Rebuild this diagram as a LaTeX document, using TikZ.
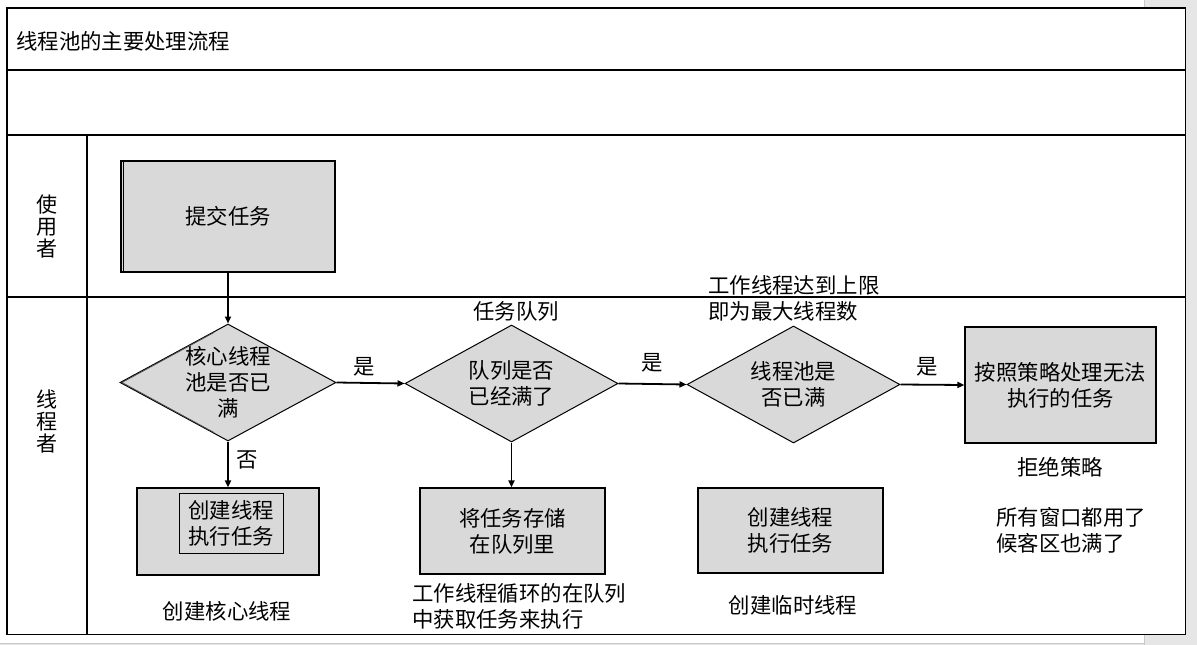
\documentclass[tikz,border=0pt]{standalone}
\usepackage{fontspec}
\setmainfont{Noto Sans CJK SC}
\usepackage{xcolor}
\usetikzlibrary{shapes.geometric, arrows.meta, positioning, calc}
\definecolor{boxgray}{RGB}{217,217,217}
\definecolor{pagegray}{RGB}{230,230,230}
\definecolor{edgegray}{RGB}{200,200,200}

\begin{document}
\begin{tikzpicture}[x=1pt, y=-1pt,
    font=\fontsize{21.4}{26}\selectfont,
    box/.style={rectangle, draw=black, fill=boxgray, line width=1.2pt, align=center, inner sep=0pt},
    decision/.style={diamond, draw=black, fill=boxgray, line width=1pt, inner sep=0pt, minimum width=214pt, minimum height=117pt},
    note/.style={align=center, inner sep=0pt},
    arrow/.style={-{Triangle[length=7pt, width=6pt]}, line width=1.8pt},
    lane/.style={line width=2pt}
]
    \useasboundingbox (0,0) rectangle (1197,645);

    % Page
    \fill[pagegray] (1144,0) rectangle (1197,645);
    \fill[pagegray] (0,643) rectangle (1144,645);
    \draw[edgegray, line width=1pt] (1144,0) -- (1144,645);
    \draw[edgegray, line width=1pt] (0,643) -- (1144,643);

    % Swimlanes
    \draw[line width=1.2pt, fill=white] (7,8) rectangle (1185.5,634.5);
    \draw[lane] (7,70) -- (1185.5,70);
    \draw[lane] (7,135) -- (1185.5,135);
    \draw[lane] (7,297) -- (1185.5,297);
    \draw[lane] (87,135) -- (87,634.5);

    \node[note, anchor=west] (title) at (16,41) {线程池的主要处理流程};
    \node[note, font=\fontsize{21}{22}\selectfont] (user) at (47,226) {使\\用\\者};
    \node[note, font=\fontsize{21}{22}\selectfont] (pool) at (47,421) {线\\程\\者};

    % User lane
    \node[box, minimum width=214pt, minimum height=111pt] (submit) at (228,216.5) {提交任务};
    \draw[line width=1pt] ([xshift=3pt]submit.north west) -- ([xshift=3pt]submit.south west);

    % Decisions
    \node[decision, minimum width=216pt] (corefull) at (228,382.5) {};
    \node[note] at (corefull) {核心线程\\池是否已\\满};
    \draw[line width=0.8pt, black!70] ([xshift=2.5pt]corefull.west) -- ([xshift=2.5pt]$(corefull.west)!0.85!(corefull.north)$);
    \draw[line width=0.8pt, black!70] ([xshift=2.5pt]corefull.west) -- ([xshift=2.5pt]$(corefull.west)!0.85!(corefull.south)$);

    \node[decision, minimum width=213pt] (queuefull) at (511.5,383.5) {};
    \node[note] at (queuefull) {队列是否\\已经满了};

    \node[decision, minimum width=213pt] (maxfull) at (793.5,384.5) {};
    \node[note] at (maxfull) {线程池是\\否已满};

    \node[box, minimum width=191pt, minimum height=116pt] (reject) at (1060.5,385) {按照策略处理无法\\执行的任务};

    % Results
    \node[box, minimum width=182pt, minimum height=87pt] (corethread) at (228,531.5) {};
    \node[note, draw=black, line width=1pt, minimum width=104pt, minimum height=60pt] (coretask) at (231,523) {创建线程\\执行任务};
    \node[box, minimum width=185pt, minimum height=86pt] (store) at (512.5,531) {将任务存储\\在队列里};
    \node[box, minimum width=185pt, minimum height=85pt] (tempthread) at (790.5,530.5) {创建线程\\执行任务};

    % Connectors
    \draw[arrow] (submit.south) -- (corefull.north);
    \draw[arrow] (corefull.east) -- (queuefull.west) node[note, above=6pt, pos=0.4] {是};
    \draw[arrow] (queuefull.east) -- (maxfull.west) node[note, above=11pt, pos=0.5] {是};
    \draw[arrow] (maxfull.east) -- (reject.west) node[note, above=8pt, pos=0.42] {是};
    \draw[arrow] (corefull.south) -- (corethread.north) node[note, right=8pt, pos=0.4] {否};
    \draw[arrow] (queuefull.south) -- (queuefull.south |- store.north);

    % Labels
    \node[note] (queuename) at (516,311) {任务队列};
    \node[note, align=left, anchor=west] (maxnote) at (708,298) {工作线程达到上限\\即为最大线程数};
    \node[note] (rejectname) at (1060,467) {拒绝策略};
    \node[note, align=left, anchor=west] (fullnote) at (996,530.5) {所有窗口都用了\\候客区也满了};
    \node[note] (corename) at (227,611) {创建核心线程};
    \node[note, align=left, anchor=west] (loopnote) at (412,606) {工作线程循环的在队列\\中获取任务来执行};
    \node[note] (tempname) at (793,605) {创建临时线程};
\end{tikzpicture}
\end{document}
